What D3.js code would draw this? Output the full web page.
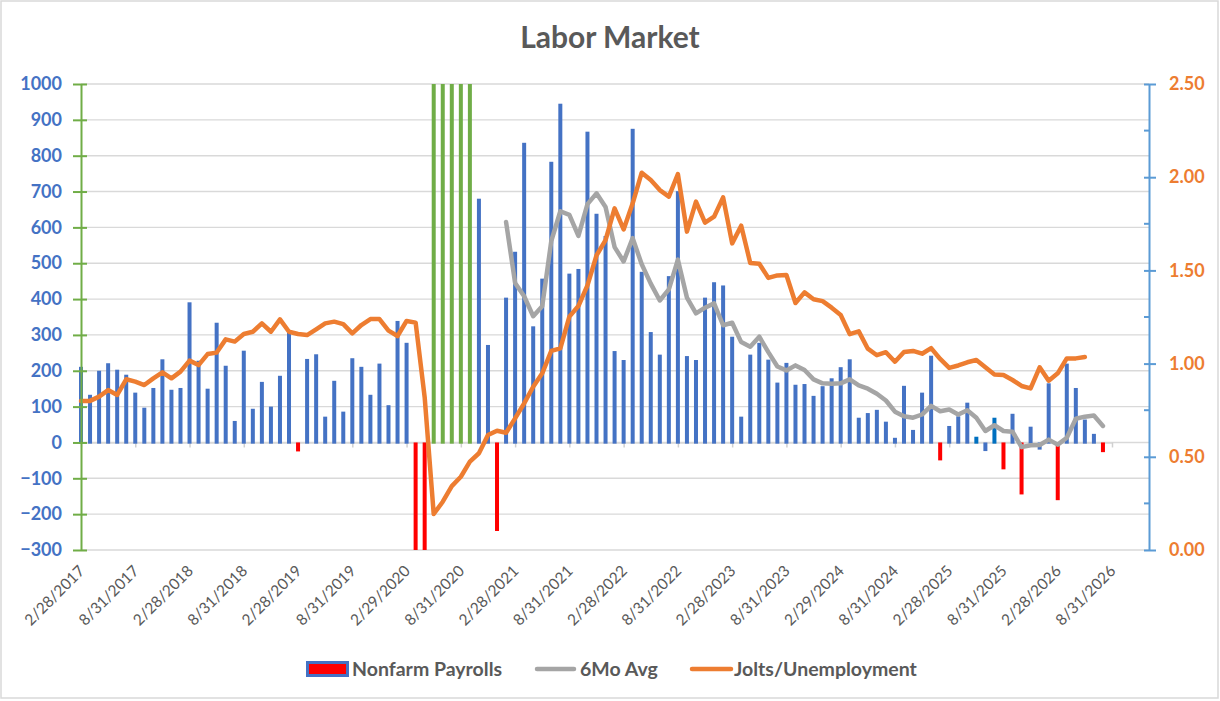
<!DOCTYPE html>
<html><head><meta charset="utf-8">
<script src="https://cdn.jsdelivr.net/npm/d3@7/dist/d3.min.js"></script>
<style>
html,body{margin:0;padding:0;background:#fff;}
svg{display:block;font-family:Lato,"Open Sans",sans-serif;}
</style>
</head><body>
<svg id="chart" width="1220" height="701"></svg>
<script>
// ---------------- DATA ----------------
const firstMonth = "2017-02";            // first category (month) on the axis
const lastMonth  = "2026-07";            // last category with a bar
const tickLabels = ["2/28/2017","8/31/2017","2/28/2018","8/31/2018","2/28/2019","8/31/2019",
  "2/29/2020","8/31/2020","2/28/2021","8/31/2021","2/28/2022","8/31/2022","2/28/2023",
  "8/31/2023","2/29/2024","8/31/2024","2/28/2025","8/31/2025","2/28/2026","8/31/2026"];
const leftTicks  = [-300,-200,-100,0,100,200,300,400,500,600,700,800,900,1000];
const rightTicks = [0,0.5,1,1.5,2,2.5];
const rightMinor = [0.25,0.75,1.25,1.75,2.25];

// Nonfarm payrolls (thousands), Feb 2017 .. Jul 2026
const payrolls = [
  211,133,200,221,203,189,139,97,152,232,147,152,
  391,228,150,334,214,60,256,94,169,100,186,311,
  -25,233,246,72,172,86,235,211,133,220,104,339,
  278,-1373,-20477,2725,4781,1726,1583,1439,680,272,-247,404,
  532,836,324,457,783,945,471,484,867,638,576,255,
  230,875,476,308,245,464,701,241,230,404,447,438,
  295,72,245,278,231,167,222,161,163,130,157,179,
  210,232,69,82,91,58,13,158,35,139,242,-50,
  46,73,111,16,-24,69,-75,80,-145,44,-20,165,
  -161,220,152,64,24,-27
];
const redMonths   = ["2019-02","2020-03","2020-04","2020-12","2025-01","2025-08","2025-10","2026-02","2026-07"];
const greenMonths = ["2020-05","2020-06","2020-07","2020-08","2020-09"];
const altMonths   = ["2025-05","2025-07"];

// Jolts / Unemployment (right axis), Feb 2017 .. May 2026
const joltsRatio = [
  0.80,0.80,0.823,0.858,0.832,0.916,0.903,0.885,0.921,0.953,0.921,0.957,
  1.016,0.992,1.051,1.059,1.13,1.118,1.159,1.171,1.216,1.171,1.237,1.171,
  1.159,1.153,1.184,1.216,1.225,1.212,1.162,1.207,1.239,1.239,1.177,1.148,
  1.229,1.22,0.82,0.193,0.259,0.343,0.393,0.474,0.519,0.617,0.64,0.629,
  0.706,0.787,0.876,0.948,1.068,1.082,1.252,1.309,1.42,1.58,1.663,1.833,
  1.72,1.86,2.024,1.985,1.931,1.896,2.017,1.708,1.869,1.756,1.788,1.892,
  1.645,1.74,1.54,1.536,1.46,1.473,1.475,1.325,1.382,1.345,1.335,1.30,
  1.261,1.158,1.173,1.08,1.045,1.061,1.01,1.062,1.068,1.053,1.083,1.025,
  0.977,0.99,1.007,1.019,0.98,0.942,0.939,0.912,0.88,0.867,0.98,0.908,
  0.948,1.028,1.028,1.035
];

// 6-month average (left axis), Jan 2021 .. Jul 2026
const avgStart = "2021-01";
const sixMoAvg = [
  615,445,408,352,380,562,645,635,576,665,695,657,
  545,505,570,497,443,396,427,510,404,360,376,388,
  327,334,280,267,295,252,212,201,215,202,176,165,
  164,165,176,159,150,136,117,86,73,69,78,102,
  87,92,78,90,69,32,48,32,30,-13,-8,-7,
  8,-6,13,66,72,75,46
];

// ---------------- CHART ----------------
const fmtM = d3.timeFormat("%Y-%m"), parseM = d3.timeParse("%Y-%m");
const months = d3.timeMonth.range(parseM(firstMonth), d3.timeMonth.offset(parseM(lastMonth), 1)).map(fmtM);
const monthIdx = m => d3.timeMonth.count(parseM(firstMonth), parseM(m));

const svg = d3.select("#chart");
const P = {left:81, right:1149, top:84, bottom:550, xEnd:1112};
const x  = d3.scaleLinear().domain([0, 114]).range([P.left, P.xEnd]);
const yL = d3.scaleLinear().domain([-300, 1000]).range([P.bottom, P.top]);
const yR = d3.scaleLinear().domain([0, 2.5]).range([P.bottom, P.top]);

const C = {blue:"#4472C4", alt:"#0070C0", red:"#FF0000", green:"#70AD47", orange:"#ED7D31",
  gray:"#A5A5A5", grid:"#D9D9D9", text:"#595959", rAxis:"#5B9BD5"};

// outer border
svg.append("rect").attr("x",1).attr("y",1).attr("width",1217).attr("height",697)
  .attr("fill","#fff").attr("stroke","#D9D9D9").attr("stroke-width",1.5);

// title
svg.append("text").attr("x",610).attr("y",48).attr("text-anchor","middle")
  .attr("font-size",30).attr("font-weight","bold").style("fill",C.text).text("Labor Market");

// gridlines
svg.append("g").selectAll("line").data(leftTicks).join("line")
  .attr("x1",P.left).attr("x2",P.right).attr("y1",d=>yL(d)).attr("y2",d=>yL(d))
  .attr("stroke",C.grid).attr("stroke-width",1.4);

// zero axis (category axis line with ticks)
const tickIdx = tickLabels.map((d,i)=>i*6);
const zeroAxis = svg.append("g").attr("transform",`translate(0,${yL(0)})`)
  .call(d3.axisBottom(x).tickValues(tickIdx).tickFormat("").tickSizeInner(5).tickSizeOuter(0));
zeroAxis.select(".domain").attr("stroke",C.grid).attr("stroke-width",1.5);
zeroAxis.selectAll(".tick line").attr("stroke","#D0D0D0").attr("stroke-width",1.5);

// clip
svg.append("clipPath").attr("id","plotclip").append("rect")
  .attr("x",P.left-5).attr("y",P.top).attr("width",P.right-P.left+5).attr("height",P.bottom-P.top);

// bars
const barColor = m => greenMonths.includes(m) ? C.green : redMonths.includes(m) ? C.red :
  altMonths.includes(m) ? C.alt : C.blue;
const bw = 4;
svg.append("g").attr("clip-path","url(#plotclip)").selectAll("rect")
  .data(payrolls.map((v,i)=>({v, i, m:months[i]}))).join("rect")
  .attr("x",d=>x(d.i)-bw/2).attr("width",bw)
  .attr("y",d=> d.v>=0 ? yL(d.v) : yL(0))
  .attr("height",d=> Math.abs(yL(d.v)-yL(0)) + (d.v>=0?1.2:0))
  .attr("fill",d=>barColor(d.m));

// lines
const avgOff = monthIdx(avgStart);
const lineL = d3.line().x(d=>x(d.i)).y(d=>yL(d.v));
const lineR = d3.line().x(d=>x(d.i)).y(d=>yR(d.v));
svg.append("path").datum(sixMoAvg.map((v,k)=>({i:k+avgOff, v})))
  .attr("d",lineL).attr("fill","none").attr("stroke",C.gray).attr("stroke-width",4.5)
  .attr("stroke-linejoin","round").attr("stroke-linecap","round");
svg.append("path").datum(joltsRatio.map((v,i)=>({i, v})))
  .attr("d",lineR).attr("fill","none").attr("stroke",C.orange).attr("stroke-width",4.5)
  .attr("stroke-linejoin","round").attr("stroke-linecap","round");

// left axis
const la = svg.append("g").attr("transform",`translate(${P.left},0)`)
  .call(d3.axisLeft(yL).tickValues(leftTicks).tickFormat(d3.format("d")).tickSizeInner(8).tickSizeOuter(0).tickPadding(11));
la.select(".domain").attr("stroke",C.green).attr("stroke-width",2);
la.selectAll(".tick line").attr("stroke",C.green).attr("stroke-width",2).attr("x2",-8).attr("x1",6);
la.selectAll(".tick text").style("fill",C.blue).attr("font-size",18).attr("font-weight","bold")
  .attr("font-family","Lato");

// right axis
const ra = svg.append("g").attr("transform",`translate(${P.right},0)`)
  .call(d3.axisRight(yR).tickValues(rightTicks).tickFormat(d3.format(".2f")).tickSizeInner(7).tickSizeOuter(0).tickPadding(13));
ra.select(".domain").attr("stroke",C.rAxis).attr("stroke-width",2);
ra.selectAll(".tick line").attr("stroke",C.rAxis).attr("stroke-width",2).attr("x1",-5);
ra.selectAll(".tick text").style("fill",C.orange).attr("font-size",18).attr("font-weight","bold")
  .attr("font-family","Lato");
ra.append("g").selectAll("line").data(rightMinor).join("line")
  .attr("x1",-5).attr("x2",0).attr("y1",d=>yR(d)).attr("y2",d=>yR(d))
  .attr("stroke",C.rAxis).attr("stroke-width",2);

// bottom category labels
const ba = svg.append("g").attr("transform",`translate(0,${P.bottom})`)
  .call(d3.axisBottom(x).tickValues(tickIdx).tickFormat((d,i)=>tickLabels[i]).tickSize(0));
ba.select(".domain").remove();
ba.selectAll(".tick text").attr("x",0).attr("y",0).attr("dy",0)
  .attr("transform","translate(4,22) rotate(-45)").attr("text-anchor","end")
  .style("fill",C.text).attr("font-size",15.5).attr("font-family","Lato");

// legend
const lg = svg.append("g");
lg.append("rect").attr("x",307.5).attr("y",662.5).attr("width",40).attr("height",13)
  .attr("fill",C.red).attr("stroke",C.blue).attr("stroke-width",3);
lg.append("text").attr("x",352).attr("y",675.5).text("Nonfarm Payrolls");
lg.append("line").attr("x1",537).attr("x2",574).attr("y1",669).attr("y2",669)
  .attr("stroke",C.gray).attr("stroke-width",4.5).attr("stroke-linecap","round");
lg.append("text").attr("x",580).attr("y",675.5).text("6Mo Avg");
lg.append("line").attr("x1",692).attr("x2",731).attr("y1",669).attr("y2",669)
  .attr("stroke",C.orange).attr("stroke-width",4.5).attr("stroke-linecap","round");
lg.append("text").attr("x",734).attr("y",675.5).text("Jolts/Unemployment");
lg.selectAll("text").attr("font-size",19.5).attr("font-weight","bold").style("fill",C.text);
</script>
</body></html>
